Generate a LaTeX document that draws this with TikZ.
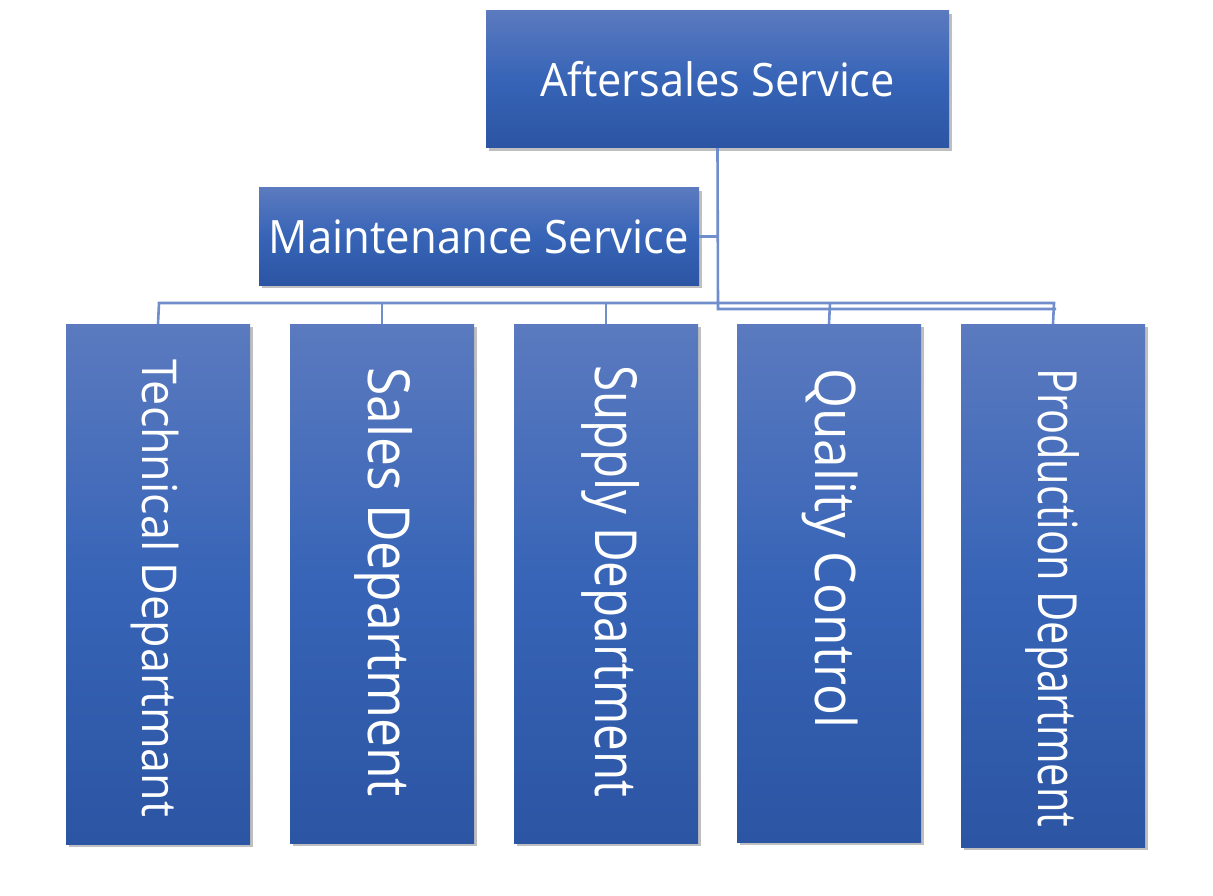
\documentclass[tikz,border=0pt]{standalone}
\usepackage{fontspec}
\setmainfont{Open Sans}
\usetikzlibrary{shadows}
\definecolor{boxtop}{RGB}{91,122,191}
\definecolor{boxmid}{RGB}{55,100,183}
\definecolor{boxbot}{RGB}{44,85,163}
\definecolor{linkblue}{RGB}{112,141,204}
\begin{document}
\begin{tikzpicture}[x=1pt,y=-1pt,
  orgbox/.style={rectangle, draw=none, inner sep=0pt, top color=boxtop, bottom color=boxbot, middle color=boxmid,
    drop shadow={shadow xshift=2.5pt, shadow yshift=-3pt, opacity=0.25, fill=black}, text=white},
  link/.style={draw=linkblue, line width=2.6pt, line join=miter},
  vlabel/.style={rotate=-90, anchor=base west, inner sep=0pt, text=white},
]
\fill[white] (0,0) rectangle (1213,896);
\useasboundingbox (0,0) rectangle (1213,896);

\coordinate (j1) at (159,303);
\coordinate (j2) at (382,303);
\coordinate (j3) at (606,303);
\coordinate (j4) at (830,303);
\coordinate (j5) at (1054,303);
\coordinate (k) at (718,309);
\coordinate (k5) at (1056,309);
\coordinate (m) at (718,236.5);

\node[orgbox, minimum width=463pt, minimum height=137pt] (after) at (717.5,79.5)
  {\fontsize{46}{50}\selectfont\resizebox{355pt}{\height}{Aftersales Service}};
\node[orgbox, minimum width=440pt, minimum height=97pt] (maint) at (479,236.5)
  {\fontsize{46}{50}\selectfont\resizebox{420pt}{\height}{Maintenance Service}};

\node[orgbox, minimum width=184pt, minimum height=520pt] (c1) at (158,584) {};
\node[orgbox, minimum width=184pt, minimum height=519pt] (c2) at (382,583.5) {};
\node[orgbox, minimum width=184pt, minimum height=519pt] (c3) at (606,583.5) {};
\node[orgbox, minimum width=184pt, minimum height=518pt] (c4) at (829,583) {};
\node[orgbox, minimum width=184pt, minimum height=523pt] (c5) at (1053,585.5) {};

\node[vlabel] (l1) at (142,359) {\fontsize{48}{50}\selectfont\resizebox{458pt}{\height}{Technical Departmant}};
\node[vlabel] (l2) at (368,367) {\fontsize{58}{60}\selectfont\resizebox{430pt}{\height}{Sales Department}};
\node[vlabel] (l3) at (595,365) {\fontsize{58}{60}\selectfont\resizebox{432pt}{\height}{Supply Department}};
\node[vlabel] (l4) at (815,368) {\fontsize{56}{60}\selectfont\resizebox{360pt}{\height}{Quality Control}};
\node[vlabel] (l5) at (1038,368) {\fontsize{54}{60}\selectfont\resizebox{459pt}{\height}{Production Department}};

\draw[link] (after.south) -- (k) -- (k5);
\draw[link] (maint.east) -- (m);
\draw[link] (c1.north) -- (j1) -- (j5) -- (c5.north);
\draw[link] (j2) -- (c2.north);
\draw[link] (j3) -- (c3.north);
\draw[link] (j4) -- (c4.north);
\end{tikzpicture}
\end{document}
